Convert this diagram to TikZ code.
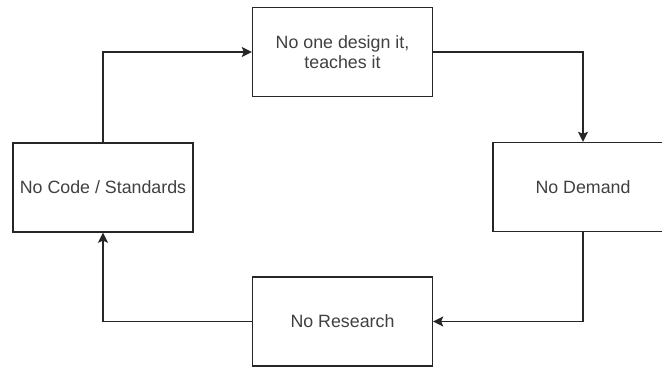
\documentclass[tikz,border=0pt]{standalone}
\usepackage{fontspec}
\setmainfont{Liberation Sans}
\usetikzlibrary{arrows.meta}

\begin{document}
\begin{tikzpicture}[x=1pt,y=-1pt,
  box/.style={draw=black!85,line width=1.4pt,minimum width=180pt,minimum height=89pt,
    inner sep=0pt,align=center,text=black!75,font=\fontsize{17.8pt}{20pt}\selectfont},
  flow/.style={draw=black!85,line width=1.4pt,-{Stealth[length=10pt,width=10pt,inset=2pt]}}]
\clip (0,0) rectangle (662,367);
\node[box] (design) at (342.5,52.0) {No one design it,\\teaches it};
\node[box] (demand) at (583.0,187.0) {No Demand};
\node[box] (research) at (342.5,321.5) {No Research};
\node[box] (codes) at (103.0,187.5) {No Code / Standards};
\draw[flow] (codes.north) |- (design.west);
\draw[flow] (design.east) -| (demand.north);
\draw[flow] (demand.south) |- (research.east);
\draw[flow] (research.west) -| (codes.south);
\end{tikzpicture}
\end{document}
